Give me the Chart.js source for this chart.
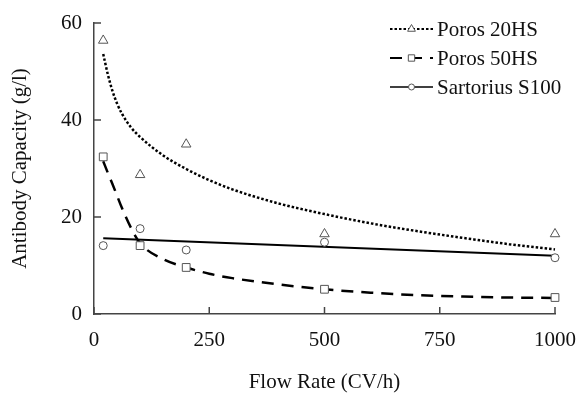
<!DOCTYPE html>
<html>
<head>
<meta charset="utf-8">
<script src="https://cdn.jsdelivr.net/npm/chart.js@4.4.1/dist/chart.umd.min.js"></script>
<style>
    html, body { margin: 0; padding: 0; background: #fff; }
    #wrap { width: 578px; height: 394px; }
</style>
</head>
<body>
<div id="wrap"><canvas id="capacityChart" width="578" height="394"></canvas></div>
<script>
// measured points
var flowRates = [20, 100, 200, 500, 1000];
var poros20 = [56.4, 28.7, 35.0, 16.5, 16.5];
var poros50 = [32.4, 14.1, 9.6, 5.1, 3.4];
var sartorius = [14.1, 17.6, 13.2, 14.8, 11.6];

// fitted curves
var fitRates = [20, 30, 40, 50, 60, 80, 100, 150, 200, 250, 300, 400, 500, 600, 700, 800, 900, 1000];
var poros20Fit = [53.6, 49.4, 46.0, 43.4, 41.4, 38.5, 36.5, 32.7, 29.9, 27.6, 25.7, 22.8, 20.6, 18.7, 17.1, 15.7, 14.4, 13.3];
var poros50Fit = [31.5, 29.1, 26.8, 24.4, 22.0, 17.8, 14.6, 11.3, 9.6, 8.3, 7.4, 6.1, 5.1, 4.4, 3.9, 3.6, 3.4, 3.3];
var sartoriusFitRates = [20, 1000];
var sartoriusFit = [15.6, 12.0];

var seriesNames = ["Poros 20HS", "Poros 50HS", "Sartorius S100"];
var xTicks = [0, 250, 500, 750, 1000];
var yTicks = [0, 20, 40, 60];

var serif = "'Liberation Serif', 'Times New Roman', serif";
var markerColor = "#555";
var lineStyles = [
    { dash: [2.5, 2], width: 2.5, marker: "triangle", radius: 5.5 },
    { dash: [12, 8], width: 2.5, marker: "rect", radius: 5.5 },
    { dash: [], width: 2, marker: "circle", radius: 4 }
];

function toPoints(xs, ys) {
    return xs.map(function (x, i) { return { x: x, y: ys[i] }; });
}

function fitSet(xs, ys, k) {
    return {
        label: seriesNames[k] + " fit",
        data: toPoints(xs, ys),
        showLine: true,
        borderColor: "#000",
        borderWidth: lineStyles[k].width,
        borderDash: lineStyles[k].dash,
        borderCapStyle: "butt",
        cubicInterpolationMode: "monotone",
        pointRadius: 0,
        fill: false,
        clip: false,
        order: 2
    };
}

function markerSet(ys, k) {
    return {
        label: seriesNames[k],
        data: toPoints(flowRates, ys),
        showLine: false,
        pointStyle: lineStyles[k].marker,
        pointRadius: lineStyles[k].radius,
        pointBackgroundColor: "#fff",
        pointBorderColor: markerColor,
        pointBorderWidth: 1,
        clip: false,
        order: 1
    };
}

// legend drawn inside the plot, top right
var insideLegend = {
    id: "insideLegend",
    afterDraw: function (chart) {
        var ctx = chart.ctx;
        var x0 = 390, x1 = 433, textX = 437;
        var rows = [29, 58, 87];
        ctx.save();
        for (var k = 0; k < seriesNames.length; k++) {
            var y = rows[k];
            ctx.beginPath();
            ctx.setLineDash(lineStyles[k].dash);
            ctx.lineWidth = lineStyles[k].width - 0.5;
            ctx.strokeStyle = "#000";
            ctx.moveTo(x0, y);
            ctx.lineTo(x1, y);
            ctx.stroke();
            ctx.setLineDash([]);
            ctx.fillStyle = "#fff";
            ctx.strokeStyle = markerColor;
            ctx.lineWidth = 1;
            Chart.helpers.drawPoint(ctx, {
                pointStyle: lineStyles[k].marker,
                radius: lineStyles[k].radius - 1,
                rotation: 0,
                borderWidth: 1
            }, (x0 + x1) / 2, y);
            ctx.fillStyle = "#111";
            ctx.font = "21px " + serif;
            ctx.textAlign = "left";
            ctx.textBaseline = "middle";
            ctx.fillText(seriesNames[k], textX, y + 1);
        }
        ctx.restore();
    }
};

// tick marks pointing into the plot
var inwardTicks = {
    id: "inwardTicks",
    afterDraw: function (chart) {
        var ctx = chart.ctx;
        var xs = chart.scales.x, ys = chart.scales.y;
        var area = chart.chartArea;
        ctx.save();
        ctx.strokeStyle = "#444";
        ctx.lineWidth = 1.5;
        ctx.beginPath();
        xTicks.forEach(function (v) {
            var px = xs.getPixelForValue(v);
            ctx.moveTo(px, area.bottom);
            ctx.lineTo(px, area.bottom - 7);
        });
        yTicks.forEach(function (v) {
            var py = ys.getPixelForValue(v);
            ctx.moveTo(area.left, py);
            ctx.lineTo(area.left + 7, py);
        });
        ctx.stroke();
        ctx.restore();
    }
};

Chart.defaults.font.family = serif;
Chart.defaults.font.size = 21;
Chart.defaults.color = "#111";

var ctx = document.getElementById("capacityChart").getContext("2d");
var capacityChart = new Chart(ctx, {
    type: "scatter",
    data: {
        datasets: [
            fitSet(fitRates, poros20Fit, 0),
            fitSet(fitRates, poros50Fit, 1),
            fitSet(sartoriusFitRates, sartoriusFit, 2),
            markerSet(poros20, 0),
            markerSet(poros50, 1),
            markerSet(sartorius, 2)
        ]
    },
    options: {
        responsive: false,
        animation: false,
        layout: { padding: { left: 0, top: 23, right: 23, bottom: 0 } },
        plugins: {
            legend: { display: false },
            tooltip: { enabled: false }
        },
        scales: {
            x: {
                type: "linear",
                min: 0,
                max: 1000,
                afterBuildTicks: function (scale) {
                    scale.ticks = xTicks.map(function (v) { return { value: v }; });
                },
                ticks: {
                    padding: 14,
                    maxRotation: 0,
                    callback: function (value) { return String(value); }
                },
                grid: { display: false, drawTicks: false },
                border: { display: true, color: "#444", width: 1.5 },
                title: {
                    display: true,
                    text: "Flow Rate (CV/h)",
                    font: { size: 21, lineHeight: 1 },
                    padding: { top: 0, bottom: 1 }
                },
                afterFit: function (scale) {
                    scale.height = 80;
                    scale.paddingLeft = 0;
                    scale.paddingRight = 0;
                }
            },
            y: {
                type: "linear",
                min: 0,
                max: 60,
                afterBuildTicks: function (scale) {
                    scale.ticks = yTicks.map(function (v) { return { value: v }; });
                },
                ticks: {
                    padding: 12,
                    callback: function (value) { return String(value); }
                },
                grid: { display: false, drawTicks: false },
                border: { display: true, color: "#444", width: 1.5 },
                title: {
                    display: true,
                    text: "Antibody Capacity (g/l)",
                    font: { size: 21, lineHeight: 1 },
                    padding: { top: 10, bottom: 0 }
                },
                afterFit: function (scale) {
                    scale.width = 94;
                    scale.paddingTop = 0;
                    scale.paddingBottom = 0;
                }
            }
        }
    },
    plugins: [inwardTicks, insideLegend]
});
</script>
</body>
</html>
